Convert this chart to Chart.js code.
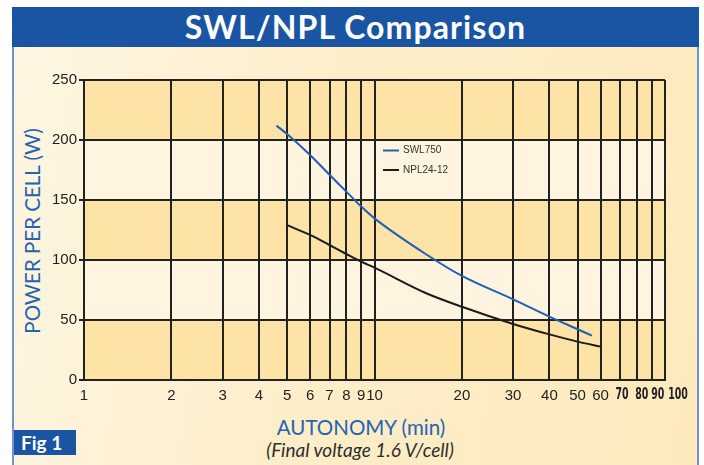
<!DOCTYPE html>
<html lang="en">
  <head>
    <meta charset="UTF-8" />
    <title>SWL/NPL Comparison</title>
    <style>
      * {
        margin: 0;
        padding: 0;
        box-sizing: border-box;
      }
      body {
        width: 704px;
        height: 465px;
        background: #fff;
        position: relative;
        overflow: hidden;
        font-family: Lato, "Open Sans", sans-serif;
      }
      .frame {
        position: absolute;
        left: 12px;
        top: 7px;
        width: 687px;
        height: 470px;
        border-left: 2px solid #6f93cc;
        border-right: 2px solid #6f93cc;
        background: linear-gradient(100deg, #fef6e3 0%, #fdeec9 45%, #fde9bd 100%);
      }
      .header {
        position: absolute;
        left: 12px;
        top: 7px;
        width: 687px;
        height: 40px;
        background: #1a55a4;
        color: #fff;
        font-weight: bold;
        font-size: 32px;
        letter-spacing: 1.1px;
        text-align: center;
        line-height: 40px;
      }
      canvas {
        position: absolute;
        left: 0;
        top: 0;
      }
      .ytitle {
        position: absolute;
        left: 32px;
        top: 231px;
        transform: translate(-50%, -50%) rotate(-90deg);
        white-space: nowrap;
        color: #2563b3;
        font-size: 20.5px;
      }
      .xtitle {
        position: absolute;
        left: 361px;
        top: 427px;
        transform: translate(-50%, -50%);
        white-space: nowrap;
        color: #2563b3;
        font-size: 20.5px;
      }
      .xsub {
        position: absolute;
        left: 360px;
        top: 449px;
        transform: translate(-50%, -50%);
        white-space: nowrap;
        color: #2e2e2e;
        font-style: italic;
        font-size: 19px;
      }
      .fig {
        position: absolute;
        left: 14px;
        top: 430px;
        width: 62px;
        height: 25px;
        background: #1a55a4;
        color: #fff;
        font-weight: bold;
        font-size: 19px;
        line-height: 25px;
        padding-left: 7px;
      }
    </style>
  </head>
  <body>
    <div class="frame"></div>
    <div class="header">SWL/NPL Comparison</div>
    <div class="ytitle">POWER PER CELL (W)</div>
    <div class="xtitle">AUTONOMY (min)</div>
    <div class="xsub">(Final voltage 1.6 V/cell)</div>
    <div class="fig">Fig 1</div>
    <canvas id="myChart" width="704" height="465"></canvas>

    <script src="https://cdn.jsdelivr.net/npm/chart.js"></script>
    <script>
      // values
      const swlMinutes = [4.6, 5, 6, 7, 8, 9, 10, 15, 20, 30, 40, 50, 56];
      const swlPower = [212, 205, 187.5, 171, 157, 144.5, 134.7, 105, 86.7, 67.2, 52.8, 42.3, 37];
      const nplMinutes = [5, 6, 7, 8, 9, 10, 15, 20, 30, 40, 50, 60];
      const nplPower = [129, 121, 112.5, 105, 98.6, 93.6, 72.5, 61, 46.7, 38, 32, 27.8];
      const xTicks = [1, 2, 3, 4, 5, 6, 7, 8, 9, 10, 20, 30, 40, 50, 60, 70, 80, 90, 100];
      const yTicks = [0, 50, 100, 150, 200, 250];
      const seriesNames = ["SWL750", "NPL24-12"];

      // the crowded labels at the end of the axis are squeezed and nudged right
      const narrowNudge = { 70: 2, 80: 5, 90: 6, 100: 13 };

      const toPoints = (xs, ys) => xs.map((x, i) => ({ x: x, y: ys[i] }));

      // alternating horizontal bands behind the grid
      const bands = {
        id: "bands",
        beforeDraw(chart) {
          const { ctx, chartArea, scales: { y } } = chart;
          ctx.save();
          for (let i = 0; i < yTicks.length - 1; i++) {
            const top = y.getPixelForValue(yTicks[i + 1]);
            const bottom = y.getPixelForValue(yTicks[i]);
            ctx.fillStyle = i % 2 === 0 ? "#fde4a6" : "#fef4e0";
            ctx.fillRect(chartArea.left, top, chartArea.right - chartArea.left, bottom - top);
          }
          ctx.restore();
        },
      };

      const narrowLabels = {
        id: "narrowLabels",
        afterDraw(chart) {
          const { ctx, scales: { x } } = chart;
          ctx.save();
          ctx.font = "bold 15px 'DejaVu Sans Condensed', 'Liberation Sans Narrow', sans-serif";
          ctx.fillStyle = "#222";
          ctx.textAlign = "center";
          ctx.textBaseline = "top";
          Object.keys(narrowNudge).forEach((v) => {
            const px = x.getPixelForValue(Number(v)) + narrowNudge[v];
            ctx.save();
            ctx.translate(px, x.top + 7);
            ctx.scale(0.7, 1.02);
            ctx.fillText(v, 0, 0);
            ctx.restore();
          });
          ctx.restore();
        },
      };

      const legendBox = {
        id: "legendBox",
        afterDatasetsDraw(chart) {
          const { ctx } = chart;
          ctx.save();
          ctx.font = "10px 'Liberation Sans', Arial, sans-serif";
          ctx.textBaseline = "middle";
          chart.data.datasets.forEach((ds, i) => {
            const yy = 150.5 + i * 19.5;
            ctx.strokeStyle = ds.borderColor;
            ctx.lineWidth = 2;
            ctx.beginPath();
            ctx.moveTo(383, yy);
            ctx.lineTo(399, yy);
            ctx.stroke();
            ctx.fillStyle = "#333";
            ctx.fillText(ds.label, 403, yy);
          });
          ctx.restore();
        },
      };

      const ctx = document.getElementById("myChart");

      const myChart = new Chart(ctx, {
        type: "line",
        data: {
          datasets: [
            {
              label: seriesNames[0],
              data: toPoints(swlMinutes, swlPower),
              borderColor: "#1f5fb4",
              borderWidth: 2,
              pointRadius: 0,
              cubicInterpolationMode: "monotone",
            },
            {
              label: seriesNames[1],
              data: toPoints(nplMinutes, nplPower),
              borderColor: "#1c1c1c",
              borderWidth: 2,
              pointRadius: 0,
              cubicInterpolationMode: "monotone",
            },
          ],
        },
        options: {
          responsive: false,
          animation: false,
          layout: {
            padding: { left: 44, right: 39, top: 80, bottom: 65 },
          },
          plugins: {
            legend: { display: false },
            tooltip: { enabled: false },
          },
          scales: {
            x: {
              type: "logarithmic",
              min: 1,
              max: 100,
              afterFit: (scale) => {
                scale.height = 20;
              },
              afterBuildTicks: (scale) => {
                scale.ticks = xTicks.map((v) => ({ value: v }));
              },
              border: { color: "#222", width: 2 },
              grid: { color: "#222", lineWidth: 2, drawTicks: false },
              ticks: {
                autoSkip: false,
                maxRotation: 0,
                padding: 7,
                color: "#222",
                font: { family: "'Liberation Sans', Arial, sans-serif", size: 15 },
                callback: (v) => (narrowNudge[v] !== undefined ? "" : String(v)),
              },
            },
            y: {
              min: 0,
              max: 250,
              afterFit: (scale) => {
                scale.width = 40;
              },
              afterBuildTicks: (scale) => {
                scale.ticks = yTicks.map((v) => ({ value: v }));
              },
              border: { color: "#222", width: 2 },
              grid: { color: "#222", lineWidth: 2, tickLength: 5 },
              ticks: {
                padding: 2,
                color: "#222",
                font: { family: "'Liberation Sans', Arial, sans-serif", size: 15 },
              },
            },
          },
        },
        plugins: [bands, narrowLabels, legendBox],
      });
    </script>
  </body>
</html>
